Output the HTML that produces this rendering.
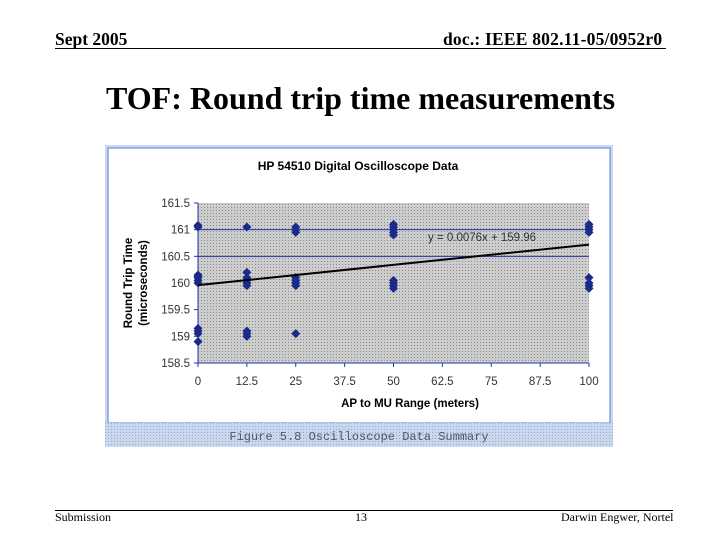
<!DOCTYPE html>
<html><head><meta charset="utf-8"><style>
body{margin:0;background:#fff;}
#root{position:relative;width:720px;height:540px;overflow:hidden;font-family:"Liberation Serif",serif;}
.t{position:absolute;white-space:nowrap;}
</style></head><body>
<div id="root">
<div class="t" style="left:55px;top:29px;font-size:17.5px;font-weight:bold;">Sept 2005</div>
<div class="t" style="left:443px;top:29px;font-size:17.5px;font-weight:bold;letter-spacing:0.2px;">doc.: IEEE 802.11-05/0952r0</div>
<div style="position:absolute;left:55px;top:48px;width:611px;height:1px;background:#000;"></div>
<div class="t" style="left:106px;top:80px;font-size:32px;font-weight:bold;">TOF: Round trip time measurements</div>
<svg style="position:absolute;left:0;top:0" width="720" height="540" id="chart">
<defs><pattern id="dots" width="3" height="3" patternUnits="userSpaceOnUse"><rect width="3" height="3" fill="#cdcdcd"/><rect width="1" height="1" fill="#8a8a8a"/></pattern>
<pattern id="bdots" width="3" height="3" patternUnits="userSpaceOnUse"><rect width="3" height="3" fill="#c8d8f0"/><rect width="1" height="1" fill="#9ab"/></pattern></defs>
<rect x="105" y="145" width="508" height="302" fill="#c8d8f0"/>
<rect x="108" y="148" width="502" height="275" fill="#fff" stroke="#5a7bd0" stroke-width="1"/>
<rect x="105" y="423" width="508" height="24" fill="url(#bdots)"/>
<text x="359" y="440" text-anchor="middle" font-family="Liberation Mono,monospace" font-size="12" fill="#556">Figure 5.8 Oscilloscope Data Summary</text>
<text x="358" y="170" text-anchor="middle" font-family="Liberation Sans,sans-serif" font-size="12" font-weight="bold">HP 54510 Digital Oscilloscope Data</text>
<g id="plot"></g>
<text x="410" y="407" text-anchor="middle" font-family="Liberation Sans,sans-serif" font-size="11.5" font-weight="bold">AP to MU Range (meters)</text>
<text transform="translate(132,283) rotate(-90)" text-anchor="middle" font-family="Liberation Sans,sans-serif" font-size="11.5" font-weight="bold">Round Trip Time</text>
<text transform="translate(147,283) rotate(-90)" text-anchor="middle" font-family="Liberation Sans,sans-serif" font-size="11.5" font-weight="bold">(microseconds)</text>
</svg>
<div style="position:absolute;left:55px;top:510px;width:618px;height:1px;background:#000;"></div>
<div class="t" style="left:55px;top:510px;font-size:12px;">Submission</div>
<div class="t" style="left:355px;top:510px;font-size:12px;">13</div>
<div class="t" style="left:561px;top:510px;font-size:12px;">Darwin Engwer, Nortel</div>
</div>
<script>
const xTicks=[0,12.5,25,37.5,50,62.5,75,87.5,100];
const yTicks=[158.5,159,159.5,160,160.5,161,161.5];
const gridY=[160.5,161];
const pointX=[0,0,0,0,0,0,0,0,0,0,0,12.5,12.5,12.5,12.5,12.5,12.5,12.5,12.5,12.5,25,25,25,25,25,25,25,25,50,50,50,50,50,50,50,50,50,100,100,100,100,100,100,100,100];
const pointY=[161.05,161.08,160.15,160.1,160.05,160.0,159.15,159.1,159.05,158.9,160.12,161.05,160.2,160.1,160.05,160.0,159.95,159.1,159.05,159.0,161.05,161.0,160.95,160.1,160.05,160.0,159.95,159.05,161.1,161.05,161.0,160.95,160.9,160.05,160.0,159.95,159.9,161.1,161.05,161.0,160.95,160.1,160.0,159.95,159.9];
const slope=[0.0076];const intercept=[159.96];
const X0=198,X1=589,Y0=363,Y1=203;
const sx=v=>X0+(v-0)/(100-0)*(X1-X0);
const sy=v=>Y0-(v-158.5)/(161.5-158.5)*(Y0-Y1);
const ns='http://www.w3.org/2000/svg';
const g=document.getElementById('plot');
function mk(t,a){const e=document.createElementNS(ns,t);for(const k in a)e.setAttribute(k,a[k]);g.appendChild(e);return e;}
let e=mk('rect',{x:X0,y:Y1,width:X1-X0,height:Y0-Y1,fill:'url(#dots)'});


gridY.forEach(v=>{const l=mk('line',{x1:X0,x2:X1,y1:sy(v),y2:sy(v),stroke:'#2233aa','stroke-width':1});

});
mk('line',{x1:X0,x2:X0,y1:Y1,y2:Y0,stroke:'#2233aa'});
mk('line',{x1:X0,x2:X1,y1:Y0,y2:Y0,stroke:'#2233aa'});
yTicks.forEach(v=>{mk('line',{x1:X0-4,x2:X0,y1:sy(v),y2:sy(v),stroke:'#2233aa'});
const t=mk('text',{x:X0-8,y:sy(v)+4,'text-anchor':'end','font-family':'Liberation Sans,sans-serif','font-size':11.5,fill:'#333'});t.textContent=v;

});
xTicks.forEach(v=>{mk('line',{x1:sx(v),x2:sx(v),y1:Y0,y2:Y0+4,stroke:'#2233aa'});
const t=mk('text',{x:sx(v),y:Y0+22,'text-anchor':'middle','font-family':'Liberation Sans,sans-serif','font-size':11.5,fill:'#333'});t.textContent=v;

});
pointX.forEach((x,i)=>{const cx=sx(x),cy=sy(pointY[i]);const p=mk('path',{d:`M${cx} ${cy-4.5}L${cx+4.5} ${cy}L${cx} ${cy+4.5}L${cx-4.5} ${cy}Z`,fill:'#1a2a8a'});

});
const tl=mk('line',{x1:sx(0),y1:sy(intercept[0]),x2:sx(100),y2:sy(intercept[0]+slope[0]*100),stroke:'#000','stroke-width':2});


const eq=mk('text',{x:428,y:241,'font-family':'Liberation Sans,sans-serif','font-size':11.5,fill:'#333'});eq.textContent='y = 0.0076x + 159.96';


</script>
</body></html>
